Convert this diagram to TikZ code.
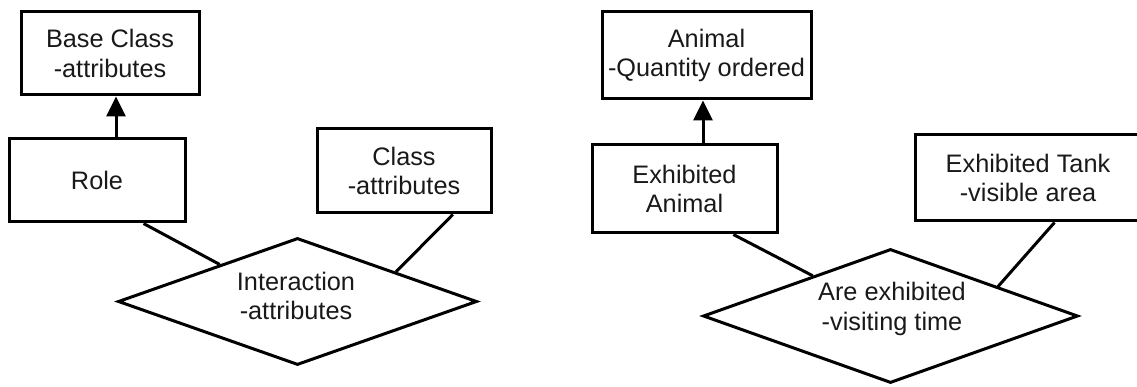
\documentclass[tikz,border=0pt]{standalone}
\usepackage{fontspec}
\setmainfont{Liberation Sans}
\usetikzlibrary{arrows.meta,shapes.geometric,calc}
\tikzset{
  box/.style={draw, line width=3pt, inner sep=0pt, align=center},
  rel/.style={draw, diamond, line width=3pt, inner sep=0pt},
  txt/.style={align=center, inner sep=0pt},
  link/.style={line width=3pt},
  inh/.style={line width=3pt, -{Triangle[width=19pt,length=20pt]}}
}
\begin{document}
\begin{tikzpicture}[x=1pt,y=-1pt,font=\fontsize{25.3}{29.5}\selectfont, text=black!90]
\useasboundingbox (0,0) rectangle (1137,387);
\clip (0,0) rectangle (1137,387);
% left diagram
\node[box, minimum width=178pt, minimum height=83pt] (base) at (110,53.5) {Base Class\\-attributes};
\node[box, minimum width=176pt, minimum height=83pt] (role) at (97,180.5) {Role};
\node[box, minimum width=174pt, minimum height=84pt] (class) at (404,171) {Class\\-attributes};
\node[rel, minimum width=359pt, minimum height=127pt] (inter) at (297.5,301.5) {};
\node[txt] (intertxt) at (296,296) {Interaction\\-attributes};
\coordinate (ax1) at (116,0);
\draw[inh] (role.north -| ax1) -- (base.south -| ax1);
\draw[link] ($(role.south west)!0.76!(role.south east)$) -- ($(inter.west)!0.57!(inter.north)$);
\draw[link] ($(class.south west)!0.776!(class.south east)$) -- ($(inter.north)!0.544!(inter.east)$);
% right diagram
\node[box, minimum width=209pt, minimum height=87pt] (animal) at (706.5,55.5) {Animal\\-Quantity ordered};
\node[box, minimum width=185pt, minimum height=88pt] (exan) at (684.5,189) {Exhibited\\Animal};
\node[box, minimum width=226pt, minimum height=86pt] (tank) at (1028,178) {Exhibited Tank\\-visible area};
\node[rel, minimum width=375pt, minimum height=134pt] (exh) at (890.5,316) {};
\node[txt] (exhtxt) at (892,309) {Are exhibited\\-visiting time};
\coordinate (ax2) at (703,0);
\draw[inh] (exan.north -| ax2) -- (animal.south -| ax2);
\draw[link] ($(exan.south west)!0.76!(exan.south east)$) -- ($(exh.west)!0.588!(exh.north)$);
\draw[link] ($(tank.south west)+(141,0)$) -- ($(exh.north)!0.569!(exh.east)$);
\end{tikzpicture}
\end{document}
